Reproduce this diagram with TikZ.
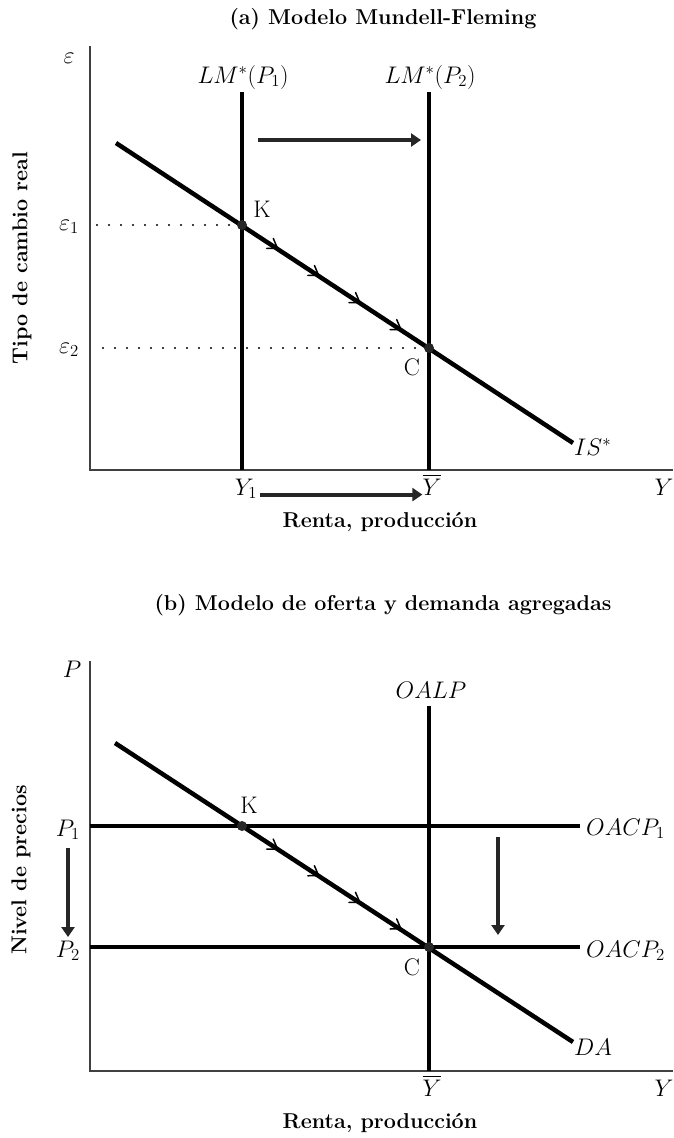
\RequirePackage{fix-cm}
\documentclass[tikz,border=0pt]{standalone}
\usepackage{amsmath}
\usetikzlibrary{arrows.meta, positioning, decorations.markings}

\newcommand{\flowtip}{\draw[line width=1.5pt, line cap=round, line join=round] (-9pt,6pt) -- (0,0) -- (-9pt,-6pt);}

\tikzset{
  curve/.style={line width=4.5pt},
  axisline/.style={line width=1.4pt, black!75},
  guide/.style={line width=2.3pt, line cap=round, dash pattern=on 0pt off 12pt},
  shiftarrow/.style={line width=4pt, black!85, -{Triangle[length=10pt, width=13pt]}},
  eqdot/.style={circle, fill=black!85, inner sep=0pt, minimum size=10pt},
  paneltitle/.style={font=\fontsize{21.5}{26}\selectfont\bfseries},
  lbl/.style={font=\fontsize{24}{28}\selectfont, inner sep=0pt},
  flow/.style={postaction={decorate}, decoration={markings,
      mark=at position 0.19 with {\flowtip},
      mark=at position 0.41 with {\flowtip},
      mark=at position 0.63 with {\flowtip},
      mark=at position 0.85 with {\flowtip}}}
}

\begin{document}
\begin{tikzpicture}[x=1pt, y=-1pt]
  \useasboundingbox (0,0) rectangle (673,1138);

  % ---------- (a) Mundell-Fleming ----------
  \node[paneltitle] (title a) at (383,19) {(a) Modelo Mundell-Fleming};

  \coordinate (oa) at (90,470);
  \coordinate (ya) at (90,46);
  \coordinate (xa) at (673,470);
  \draw[axisline] (ya) -- (oa) -- (xa);

  \coordinate (ka) at (242,225);
  \coordinate (ca) at (429,348);
  \coordinate (lm1 top) at (242,92);
  \coordinate (lm1 bot) at (242,470);
  \coordinate (lm2 top) at (429,92);
  \coordinate (lm2 bot) at (429,470);
  \coordinate (is start) at (116,143);
  \coordinate (is end) at (573,443);

  % guides to the vertical axis
  \coordinate (e1 axis) at (97,225);
  \coordinate (e2 axis) at (103,348);
  \draw[guide] (e1 axis) -- (ka);
  \draw[guide] (e2 axis) -- (ca);

  \draw[curve] (lm1 top) -- (lm1 bot);
  \draw[curve] (lm2 top) -- (lm2 bot);
  \draw[curve] (is start) -- (is end);
  \path[flow] (ka) -- (ca);

  \coordinate (shift a from) at (258,140);
  \coordinate (shift a to) at (421,140);
  \draw[shiftarrow] (shift a from) -- (shift a to);

  \node[eqdot] (dot ka) at (ka) {};
  \node[eqdot] (dot ca) at (ca) {};

  \node[lbl, anchor=base] (eps) at (69,63) {$\varepsilon$};
  \node[lbl, anchor=base east] (eps1) at (79,230) {$\varepsilon_1$};
  \node[lbl, anchor=base east] (eps2) at (79,353) {$\varepsilon_2$};
  \node[lbl, anchor=base] (lm1) at (243,83) {$LM^*(P_1)$};
  \node[lbl, anchor=base] (lm2) at (430,83) {$LM^*(P_2)$};
  \node[lbl, anchor=base] (k a) at (262,217) {K};
  \node[lbl, anchor=base] (c a) at (412,375) {C};
  \node[lbl, anchor=base west] (is) at (574,455) {$IS^*$};
  \node[lbl, anchor=base] (y1) at (246,495) {$Y_1$};
  \node[lbl, anchor=base] (ybar a) at (432,495) {$\overline{Y}$};
  \node[lbl, anchor=base] (y a) at (664,495) {$Y$};
  \draw[shiftarrow] (y1.east) ++(3pt,-6pt) coordinate (ya from) -- (ybar a.west |- ya from);

  \node[paneltitle, rotate=90] (ylab a) at (22,258) {Tipo de cambio real};
  \node[paneltitle] (xlab a) at (380,522) {Renta, producción};

  % ---------- (b) oferta y demanda agregadas ----------
  \node[paneltitle] (title b) at (383,605) {(b) Modelo de oferta y demanda agregadas};

  \coordinate (ob) at (90,1071);
  \coordinate (yb) at (90,661);
  \coordinate (xb) at (673,1071);
  \draw[axisline] (yb) -- (ob) -- (xb);

  \coordinate (kb) at (242,826);
  \coordinate (cb) at (429,947);
  \coordinate (p1 left) at (90,826);
  \coordinate (p1 right) at (580,826);
  \coordinate (p2 left) at (90,947);
  \coordinate (p2 right) at (580,947);
  \coordinate (oalp top) at (429,706);
  \coordinate (oalp bot) at (429,1071);
  \coordinate (da start) at (115,743);
  \coordinate (da end) at (573,1042);

  \draw[curve] (p1 left) -- (p1 right);
  \draw[curve] (p2 left) -- (p2 right);
  \draw[curve] (oalp top) -- (oalp bot);
  \draw[curve] (da start) -- (da end);
  \path[flow] (kb) -- (cb);

  \coordinate (drop l from) at (68,848);
  \coordinate (drop l to) at (68,937);
  \coordinate (drop r from) at (498,837);
  \coordinate (drop r to) at (498,935);
  \draw[shiftarrow] (drop l from) -- (drop l to);
  \draw[shiftarrow] (drop r from) -- (drop r to);

  \node[eqdot] (dot kb) at (kb) {};
  \node[eqdot] (dot cb) at (cb) {};

  \node[lbl, anchor=base] (p) at (72,677) {$P$};
  \node[lbl, anchor=base east] (p1) at (80,836) {$P_1$};
  \node[lbl, anchor=base east] (p2) at (80,957) {$P_2$};
  \node[lbl, anchor=base] (oalp) at (431,698) {$OALP$};
  \node[lbl, anchor=base west] (oacp1) at (586,835) {$OACP_1$};
  \node[lbl, anchor=base west] (oacp2) at (586,957) {$OACP_2$};
  \node[lbl, anchor=base west] (da) at (574,1055) {$DA$};
  \node[lbl, anchor=base] (k b) at (249,813) {K};
  \node[lbl, anchor=base] (c b) at (412,975) {C};
  \node[lbl, anchor=base] (ybar b) at (432,1096) {$\overline{Y}$};
  \node[lbl, anchor=base] (y b) at (664,1096) {$Y$};

  \node[paneltitle, rotate=90] (ylab b) at (21,870) {Nivel de precios};
  \node[paneltitle] (xlab b) at (380,1123) {Renta, producción};
\end{tikzpicture}
\end{document}
